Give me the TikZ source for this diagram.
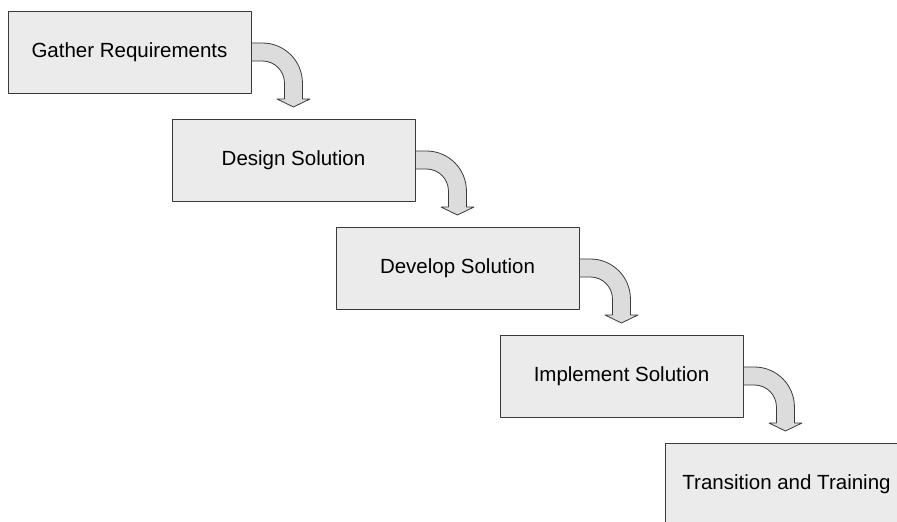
\documentclass[tikz,border=0pt]{standalone}
\usepackage{fontspec}
\setmainfont{Liberation Sans}
\definecolor{boxfill}{HTML}{EBEBEB}
\definecolor{arrfill}{HTML}{DCDCDC}
\definecolor{edge}{HTML}{3A3A3A}

\begin{document}
\begin{tikzpicture}[x=1pt, y=1pt, line join=round,
	phase/.style={draw=edge, fill=boxfill, line width=0.9pt, minimum width=243pt, minimum height=82pt, inner sep=0pt, font=\fontsize{20.5}{24}\selectfont},
	turnarrow/.style={draw=edge, fill=arrfill, line width=0.8pt}]
	\clip (0,0) rectangle (897,-522);
	\node[phase] (gather) at (129.5,-52) {Gather Requirements};
	\node[phase] (design) at (293.5,-160) {Design Solution};
	\node[phase] (develop) at (457.5,-268) {Develop Solution};
	\node[phase] (implement) at (621.5,-376) {Implement Solution};
	\node[phase] (transition) at (786.5,-484) {Transition and Training};
	\foreach \a in {gather,design,develop,implement}{
		\draw[turnarrow, shift={(\a.east)}] (0,9) -- (11,9) arc (90:0:40) -- (51,-47) -- (58.5,-47) -- (42,-55)
			-- (25.5,-47) -- (33,-47) -- (33,-31) arc (0:90:22) -- (0,-9) -- cycle;
	}
\end{tikzpicture}
\end{document}
